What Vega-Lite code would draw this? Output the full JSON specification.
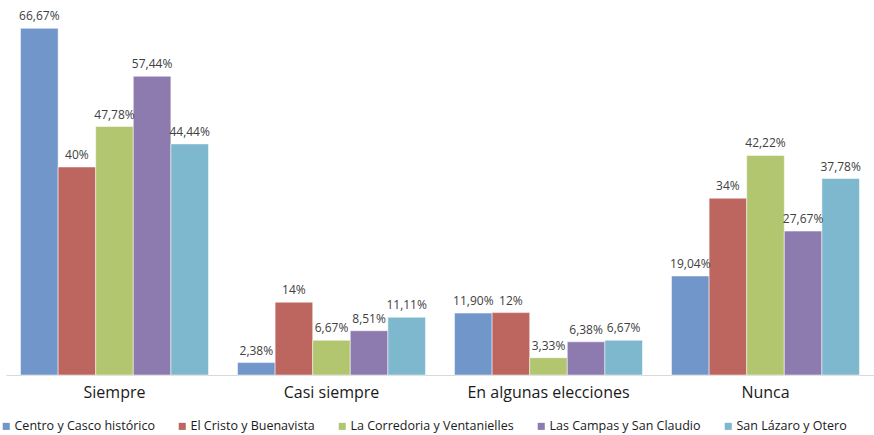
{
  "$schema": "https://vega.github.io/schema/vega-lite/v6.json",
  "width": 868,
  "height": 364,
  "autosize": {"type": "none"},
  "padding": {"left": 6, "top": 11, "right": 0, "bottom": 60},
  "background": "white",
  "config": {
    "view": {"stroke": null},
    "font": "Open Sans"
  },
  "data": {
    "values": [
      {"cat": "Siempre", "zona": "Centro y Casco histórico", "v": 66.67, "lab": "66,67%"},
      {"cat": "Siempre", "zona": "El Cristo y Buenavista", "v": 40, "lab": "40%"},
      {"cat": "Siempre", "zona": "La Corredoria y Ventanielles", "v": 47.78, "lab": "47,78%"},
      {"cat": "Siempre", "zona": "Las Campas y San Claudio", "v": 57.44, "lab": "57,44%"},
      {"cat": "Siempre", "zona": "San Lázaro y Otero", "v": 44.44, "lab": "44,44%"},
      {"cat": "Casi siempre", "zona": "Centro y Casco histórico", "v": 2.38, "lab": "2,38%"},
      {"cat": "Casi siempre", "zona": "El Cristo y Buenavista", "v": 14, "lab": "14%"},
      {"cat": "Casi siempre", "zona": "La Corredoria y Ventanielles", "v": 6.67, "lab": "6,67%"},
      {"cat": "Casi siempre", "zona": "Las Campas y San Claudio", "v": 8.51, "lab": "8,51%"},
      {"cat": "Casi siempre", "zona": "San Lázaro y Otero", "v": 11.11, "lab": "11,11%"},
      {"cat": "En algunas elecciones", "zona": "Centro y Casco histórico", "v": 11.9, "lab": "11,90%"},
      {"cat": "En algunas elecciones", "zona": "El Cristo y Buenavista", "v": 12, "lab": "12%"},
      {"cat": "En algunas elecciones", "zona": "La Corredoria y Ventanielles", "v": 3.33, "lab": "3,33%"},
      {"cat": "En algunas elecciones", "zona": "Las Campas y San Claudio", "v": 6.38, "lab": "6,38%"},
      {"cat": "En algunas elecciones", "zona": "San Lázaro y Otero", "v": 6.67, "lab": "6,67%"},
      {"cat": "Nunca", "zona": "Centro y Casco histórico", "v": 19.04, "lab": "19,04%"},
      {"cat": "Nunca", "zona": "El Cristo y Buenavista", "v": 34, "lab": "34%"},
      {"cat": "Nunca", "zona": "La Corredoria y Ventanielles", "v": 42.22, "lab": "42,22%"},
      {"cat": "Nunca", "zona": "Las Campas y San Claudio", "v": 27.67, "lab": "27,67%"},
      {"cat": "Nunca", "zona": "San Lázaro y Otero", "v": 37.78, "lab": "37,78%"}
    ]
  },
  "encoding": {
    "x": {
      "field": "cat", "type": "nominal", "sort": null,
      "scale": {"paddingInner": 0.134, "paddingOuter": 0.067},
      "axis": {
        "title": null, "labelAngle": 0, "ticks": false,
        "domainColor": "#D9D9D9", "domainWidth": 1,
        "labelFontSize": 16, "labelColor": "#1a1a1a", "labelPadding": 9
      }
    },
    "xOffset": {"field": "zona", "type": "nominal", "sort": null},
    "y": {
      "field": "v", "type": "quantitative",
      "scale": {"domain": [0, 70], "nice": false},
      "axis": null
    }
  },
  "layer": [
    {
      "mark": {"type": "bar", "stroke": "white", "strokeWidth": 0.5},
      "encoding": {
        "color": {
          "field": "zona", "type": "nominal", "sort": null,
          "scale": {
            "domain": ["Centro y Casco histórico", "El Cristo y Buenavista", "La Corredoria y Ventanielles", "Las Campas y San Claudio", "San Lázaro y Otero"],
            "range": ["#7196C9", "#BC665F", "#B2C56F", "#8D7AAF", "#7EB8CF"]
          },
          "legend": {
            "title": null, "orient": "none", "legendX": -6, "legendY": 409,
            "direction": "horizontal", "symbolType": "square", "symbolSize": 50,
            "symbolStrokeWidth": 0, "labelFontSize": 12.5, "labelColor": "#1a1a1a",
            "labelLimit": 400, "columnPadding": 21, "labelOffset": 2
          }
        }
      }
    },
    {
      "mark": {"type": "text", "baseline": "bottom", "dy": -5, "fontSize": 12, "color": "#404040"},
      "encoding": {"text": {"field": "lab"}}
    }
  ]
}
